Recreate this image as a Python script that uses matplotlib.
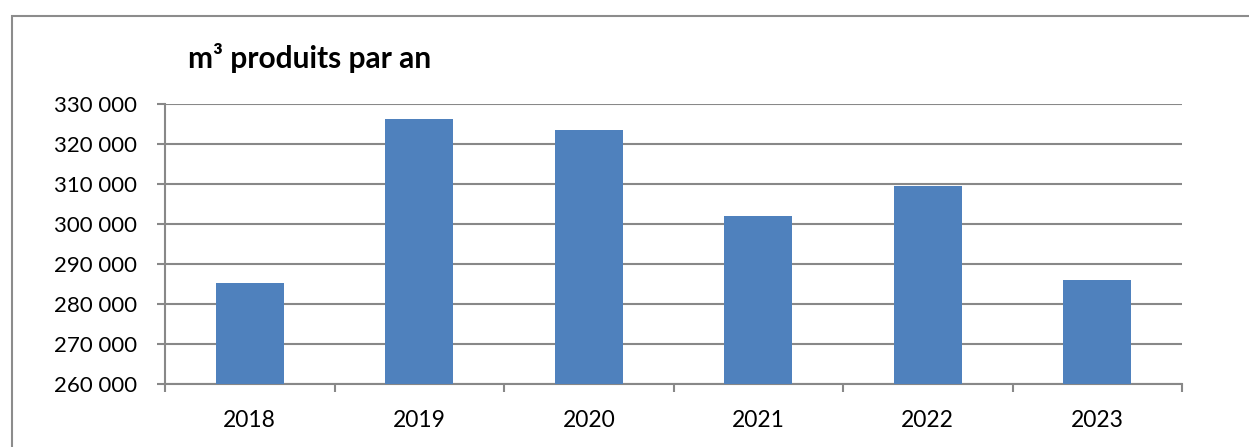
import matplotlib.pyplot as plt
from matplotlib.patches import Rectangle
from matplotlib.ticker import FuncFormatter, FixedLocator

# data
years = ['2018', '2019', '2020', '2021', '2022', '2023']
volumes = [285200, 326200, 323600, 302100, 309500, 286000]

plt.rcParams['font.family'] = ['Lato', 'DejaVu Sans']

fig = plt.figure(figsize=(12.49, 4.47), dpi=100)
ax = fig.add_axes([0.1321, 0.1409, 0.8143, 0.6264])

grid_col = '#888888'
x = range(len(years))
ax.bar(x, volumes, width=0.4, color='#4F81BD', zorder=3)

ax.set_ylim(260000, 330000)
ax.set_xlim(-0.5, len(years) - 0.5)
ax.set_yticks(range(260000, 330001, 10000))
ax.yaxis.set_major_formatter(FuncFormatter(lambda v, p: f'{int(v):,}'.replace(',', ' ')))
ax.grid(axis='y', color=grid_col, linewidth=1.5, zorder=0)

# year labels centred, ticks on category boundaries
ax.set_xticks(list(x))
ax.set_xticklabels(years)
ax.tick_params(axis='x', which='major', length=0, labelsize=16.5, pad=19)
ax.xaxis.set_minor_locator(FixedLocator([i - 0.5 for i in range(len(years) + 1)]))
ax.tick_params(axis='x', which='minor', length=6, width=1.5, color=grid_col)
ax.tick_params(axis='y', length=6, width=1.5, color=grid_col, labelsize=16, pad=14)

for s in ['top', 'right']:
    ax.spines[s].set_visible(False)
for s in ['left', 'bottom']:
    ax.spines[s].set_color(grid_col)
    ax.spines[s].set_linewidth(1.5)

fig.text(188 / 1249, 1 - 58 / 447, 'm³ produits par an', fontsize=21.5,
         fontweight='bold', va='center', ha='left')

# outer frame of the chart
fig.patches.append(Rectangle((12 / 1249, -0.1), 1.2, 1.1 - 16 / 447,
                             transform=fig.transFigure, fill=False,
                             edgecolor='#8c8c8c', linewidth=1.5))

fig.savefig('out.png', dpi=100)
